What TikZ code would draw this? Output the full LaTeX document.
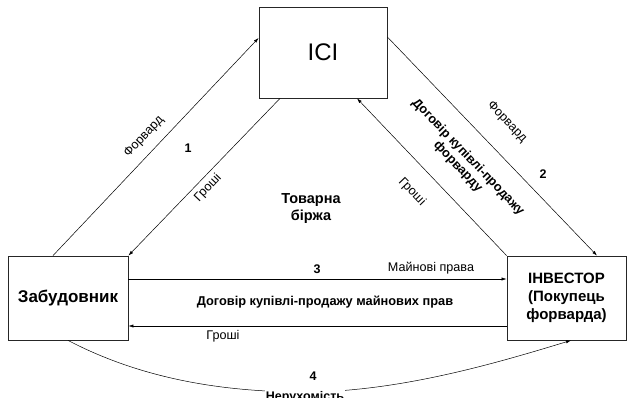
\documentclass[tikz,border=0pt]{standalone}
\usepackage{fontspec}
\setmainfont{Liberation Sans}
\usetikzlibrary{arrows.meta}
\begin{document}
\begin{tikzpicture}[x=1pt,y=-1pt,
  box/.style={draw=black!85,line width=0.8pt,rectangle,inner sep=0pt},
  arr/.style={line width=0.5pt,-{Latex[length=5pt,width=3.2pt]}},
  lbl/.style={font=\fontsize{12.6}{14}\selectfont,inner sep=0pt},
  blbl/.style={font=\fontsize{12.8}{14}\selectfont\bfseries,inner sep=0pt},
  num/.style={font=\fontsize{12.5}{14}\selectfont\bfseries,inner sep=0pt}]
\useasboundingbox (0,0) rectangle (628,398);
\node[box,minimum width=128pt,minimum height=91pt,font=\fontsize{24}{28}\selectfont] (ici) at (323,52.5) {ICI};
\node[box,minimum width=120pt,minimum height=84pt,font=\fontsize{17}{20}\selectfont\bfseries] (zab) at (68,298) {Забудовник};
\node[box,minimum width=119pt,minimum height=84pt,align=center,font=\fontsize{15}{18}\selectfont\bfseries] (inv) at (566.5,298) {ІНВЕСТОР\\(Покупець\\форварда)};
% arrows
\draw[arr] ([xshift=-15pt]zab.north) -- ([yshift=14.5pt]ici.west);
\draw[arr] ([xshift=-43pt]ici.south) -- (zab.north east);
\draw[arr] ([yshift=15.5pt]ici.east) -- ([xshift=30.5pt]inv.north);
\draw[arr] (inv.north west) -- ([xshift=34pt]ici.south);
\draw[arr] ([yshift=19pt]zab.east) -- ([yshift=19pt]inv.west);
\draw[arr] ([yshift=-28pt]inv.west) -- ([yshift=-28pt]zab.east);
\draw[arr] (zab.south) .. controls (140,378) and (220,392) .. (305,392) .. controls (400,392) and (500,362) .. ([xshift=4.5pt]inv.south);
% labels
\node[lbl,rotate=46.6] (f1) at (144,137) {Форвард};
\node[num] (n1) at (188,148) {1};
\node[lbl,rotate=46.6] (g1) at (208,188) {Гроші};
\node[blbl,align=center,font=\fontsize{14.5}{17}\selectfont\bfseries] (tb) at (311,209) {Товарна\\біржа};
\node[lbl,rotate=-46.2] (f2) at (507,122) {Форвард};
\node[num] (n2) at (543,174) {2};
\node[blbl,rotate=-46.2,align=center] (dk) at (463,162) {Договір купівлі-продажу\\форварду};
\node[lbl,rotate=-46.2] (g2) at (412,192) {Гроші};
\node[num] (n3) at (317,269) {3};
\node[lbl] (mp) at (431,268) {Майнові права};
\node[blbl] (dm) at (325,302) {Договір купівлі-продажу майнових прав};
\node[lbl] (g3) at (223,336) {Гроші};
\node[num] (n4) at (313,376) {4};
\node[num,fill=white,inner sep=1pt,anchor=base] (ner) at (305,400) {Нерухомість};
\end{tikzpicture}
\end{document}
